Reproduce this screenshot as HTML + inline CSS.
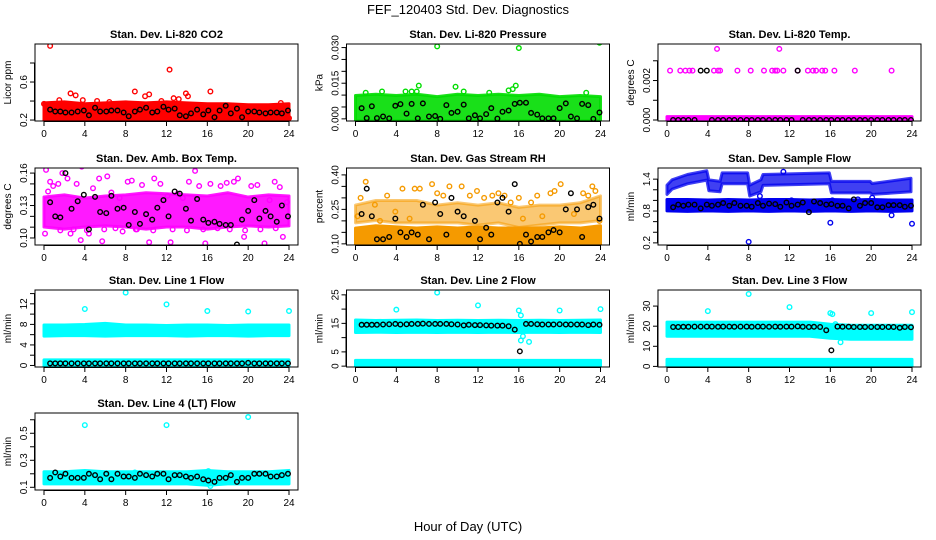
<!DOCTYPE html>
<html><head><meta charset="utf-8">
<style>
html,body{margin:0;padding:0;background:#fff;}
svg{display:block;font-family:"Liberation Sans",sans-serif;}
</style></head>
<body>
<svg id="chart" width="936" height="540" viewBox="0 0 936 540" xmlns="http://www.w3.org/2000/svg">
<text x="468" y="14" text-anchor="middle" font-size="13">FEF_120403  Std. Dev. Diagnostics</text>
<text x="468" y="531" text-anchor="middle" font-size="13">Hour of Day (UTC)</text>
</svg>
<script>
// ---- shared data ----
const hours = [0,4,8,12,16,20,24];
const blackT = [0.6,1.1,1.6,2.1,2.7,3.3,3.9,4.4,5.0,5.5,6.1,6.6,7.2,7.8,8.3,8.9,9.4,10.0,10.6,11.1,11.7,12.2,12.8,13.3,13.9,14.4,15.0,15.6,16.1,16.7,17.2,17.8,18.3,18.9,19.4,20.0,20.6,21.1,21.7,22.2,22.8,23.3,23.9];
const bandT = [0,2,4,6,8,10,12,14,16,18,20,22,24];

// CO2
const co2Lo = [0.22,0.22,0.22,0.23,0.22,0.22,0.22,0.22,0.22,0.23,0.22,0.22,0.22];
const co2Hi = [0.36,0.37,0.35,0.36,0.37,0.36,0.37,0.36,0.35,0.35,0.34,0.34,0.35];
const co2OutT = [0.6,12.3,2.6,3.1,8.9,16.3,13.9,10.3,3.8,1.5,5.2,0,12.7,13.2,23.2,6.4,11.5,5.0,24,3.2,9.9,14.1];
const co2OutV = [0.98,0.73,0.48,0.46,0.5,0.5,0.48,0.47,0.41,0.41,0.4,0.37,0.43,0.42,0.38,0.39,0.4,0.2,0.22,0.23,0.45,0.45];
const co2Black = [0.31,0.29,0.29,0.28,0.28,0.29,0.30,0.25,0.33,0.29,0.29,0.30,0.30,0.28,0.24,0.29,0.31,0.33,0.28,0.29,0.34,0.31,0.32,0.25,0.24,0.27,0.31,0.26,0.30,0.23,0.30,0.35,0.27,0.32,0.23,0.29,0.29,0.28,0.27,0.28,0.28,0.27,0.30];

// Pressure
const prLo = [0,0,0,0,0,0,0,0,0,0,0,0,0];
const prHi = [0.009,0.0095,0.009,0.0095,0.0085,0.0095,0.009,0.0095,0.009,0.0095,0.0085,0.009,0.0085];
const prOutT = [8,16,23.9,6.2,9.8,15.7,15.4,15,4.9,5.5,6,2.6,10.6,13.1,22.6,1.0];
const prOutV = [0.0305,0.0298,0.032,0.014,0.0135,0.014,0.0125,0.012,0.0115,0.0115,0.0115,0.0115,0.0115,0.011,0.011,0.011];
const prBlack = [0.0045,0.0003,0.0053,0.0003,0.001,0.0002,0.0055,0.0062,0.0022,0.0063,0.0002,0.0065,0.001,0.0012,0.0,0.0058,0.0025,0.003,0.006,0.0002,0.0015,0.0002,0.002,0.0045,0.0001,0.003,0.0035,0.0063,0.0068,0.0068,0.0025,0.0018,0.0002,0.0002,0.0002,0.0045,0.0065,0.001,0.0002,0.0063,0.0058,0.0,0.0027];

// Temp
const tpLo = [0,0,0,0,0,0,0,0,0,0,0,0,0];
const tpHi = [0.00007,0.00007,0.00007,0.00007,0.00007,0.00007,0.00007,0.00007,0.00007,0.00007,0.00007,0.00007,0.00007];
const tpOutT = [0.3,1.3,1.8,2.2,2.5,4.6,5.0,5.2,6.9,8.2,9.5,10.3,10.6,10.8,11.4,12.8,13.8,14.3,14.6,15.2,15.5,16.4,18.4,22,4.9,11];
const tpOutV = [0.0025,0.0025,0.0025,0.0025,0.0025,0.0025,0.0025,0.0025,0.0025,0.0025,0.0025,0.0025,0.0025,0.0025,0.0025,0.0025,0.0025,0.0025,0.0025,0.0025,0.0025,0.0025,0.0025,0.0025,0.0036,0.0036];
const tpBlack = [0,0,0,0,0,0.0025,0.0025,0,0,0,0,0,0,0,0,0,0,0,0,0,0,0,0.0025,0,0,0,0,0,0,0,0,0,0,0,0,0,0,0,0,0,0,0,0];

// Amb box temp
const abLo = [0.112,0.11,0.112,0.113,0.112,0.11,0.112,0.112,0.11,0.112,0.113,0.112,0.113];
const abHi = [0.136,0.138,0.135,0.137,0.138,0.14,0.139,0.138,0.137,0.14,0.136,0.138,0.137];
const abOutT = [0.2,0.4,0.6,0.9,1.4,1.8,2.3,2.6,3.2,3.6,3.7,4.4,4.8,5.4,5.7,6.2,6.6,7.4,7.7,8.2,8.6,9.1,9.6,10.3,10.8,11.4,12.1,12.4,13.1,13.6,14.2,14.8,15.2,15.8,16.3,16.7,17.3,17.9,18.6,19.0,19.6,20.3,20.9,21.6,22.1,22.6,23.1,23.4,23.8,0.1,1.6,2.9,4.2,5.9,7.0,9.0,10.7,12.6,14.0,15.6,17.0,18.2,19.7,21.2,22.7];
const abOutV = [0.163,0.143,0.152,0.148,0.15,0.16,0.155,0.104,0.15,0.098,0.166,0.104,0.146,0.155,0.097,0.157,0.142,0.137,0.106,0.152,0.153,0.108,0.149,0.096,0.155,0.15,0.139,0.096,0.141,0.137,0.152,0.162,0.148,0.095,0.15,0.114,0.148,0.151,0.152,0.155,0.101,0.148,0.149,0.095,0.135,0.152,0.147,0.101,0.133,0.104,0.107,0.108,0.107,0.108,0.109,0.108,0.107,0.108,0.107,0.108,0.109,0.108,0.107,0.108,0.109];
const abBlack = [0.133,0.12,0.119,0.16,0.127,0.134,0.14,0.108,0.138,0.124,0.123,0.139,0.127,0.128,0.112,0.124,0.113,0.122,0.117,0.128,0.135,0.12,0.143,0.141,0.127,0.116,0.136,0.117,0.114,0.115,0.113,0.112,0.112,0.094,0.117,0.125,0.135,0.118,0.125,0.12,0.115,0.13,0.12];

// RH
const rhLo = [0.105,0.105,0.11,0.105,0.105,0.11,0.105,0.105,0.1,0.105,0.105,0.105,0.105];
const rhHi = [0.16,0.17,0.165,0.16,0.165,0.16,0.165,0.16,0.16,0.16,0.165,0.16,0.17];
const rh2Lo = [0.2,0.21,0.2,0.2,0.2,0.2,0.19,0.2,0.18,0.19,0.2,0.2,0.21];
const rh2Hi = [0.26,0.28,0.28,0.28,0.26,0.27,0.26,0.27,0.25,0.26,0.26,0.27,0.3];
const rhOutT = [0.2,0.5,1.0,1.9,2.4,3.1,3.9,4.6,5.3,5.8,6.3,7.5,8.0,8.6,9.2,10.4,11.2,11.9,12.6,13.4,14.0,14.6,15.2,16.0,16.4,17.2,17.8,18.3,19.1,19.5,20.1,21.4,22.3,22.8,23.2,23.5,23.9];
const rhOutV = [0.22,0.3,0.37,0.27,0.2,0.31,0.24,0.34,0.21,0.34,0.34,0.36,0.32,0.31,0.35,0.35,0.31,0.33,0.3,0.31,0.32,0.31,0.28,0.3,0.21,0.28,0.31,0.22,0.32,0.33,0.36,0.23,0.32,0.31,0.35,0.33,0.2];
const rhBlack = [0.23,0.34,0.22,0.12,0.12,0.13,0.21,0.15,0.13,0.15,0.14,0.27,0.12,0.28,0.23,0.14,0.30,0.24,0.22,0.14,0.20,0.12,0.17,0.14,0.28,0.30,0.24,0.36,0.10,0.14,0.11,0.13,0.13,0.15,0.16,0.15,0.25,0.32,0.25,0.13,0.26,0.27,0.21];

// Sample flow
const sfLo = [0.84,0.83,0.84,0.83,0.84,0.83,0.84,0.83,0.84,0.83,0.84,0.83,0.84];
const sfHi = [0.98,0.98,0.97,0.98,0.97,0.98,0.98,0.97,0.98,0.97,0.98,0.97,0.97];
const sfUpT = [0,0.5,2,3.9,4.1,5.2,5.4,7.9,8.1,9.2,9.4,15.9,16.1,19.9,20.1,23.9];
const sfUpLo = [1.15,1.25,1.35,1.42,1.22,1.2,1.35,1.35,1.12,1.2,1.32,1.35,1.18,1.18,1.15,1.2];
const sfUpHi = [1.25,1.35,1.45,1.52,1.35,1.32,1.48,1.48,1.25,1.35,1.45,1.48,1.32,1.32,1.28,1.38];
const sfOutT = [8,16,24,22,9.1,11.4,12.2,16.2,20.1,18.7];
const sfOutV = [0.22,0.58,0.56,0.72,1.08,1.54,1.0,1.0,1.05,1.02];
const sfBlack = [0.87,0.92,0.9,0.92,0.92,0.85,0.92,0.9,0.92,0.95,0.9,0.95,0.9,0.9,0.88,0.95,0.9,0.94,0.93,0.88,0.96,0.9,0.92,0.96,0.78,0.98,0.95,0.92,0.93,0.9,0.9,0.85,1.02,0.9,0.95,0.95,0.87,0.87,0.91,0.91,0.91,0.88,0.9];

// Line 1
const l1Lo = [6.1,6.2,6.2,6.1,6.2,6.2,6.2,6.1,6.2,6.2,6.1,6.2,6.2];
const l1Hi = [7.5,7.5,7.6,7.8,7.5,7.5,7.4,7.5,7.5,7.4,7.5,7.5,7.5];
const l1bLo = [0,0,0,0,0,0,0,0,0,0,0,0,0];
const l1bHi = [0.7,0.7,0.7,0.7,0.7,0.7,0.7,0.7,0.7,0.7,0.7,0.7,0.7];
const l1OutT = [4,8,12,16,20,24];
const l1OutV = [11,14.2,11.9,10.6,10.5,10.6];
const l1Black = [0.4,0.4,0.4,0.4,0.4,0.4,0.4,0.4,0.4,0.4,0.4,0.4,0.4,0.4,0.4,0.4,0.4,0.4,0.4,0.4,0.4,0.4,0.4,0.4,0.4,0.4,0.4,0.4,0.4,0.4,0.4,0.4,0.4,0.4,0.4,0.5,0.4,0.4,0.4,0.4,0.4,0.4,0.4];

// Line 2
const l2Lo = [12.5,12.6,12.5,12.6,12.5,12.6,12.5,12.6,12.5,12.6,12.5,12.6,12.5];
const l2Hi = [15.5,15.3,15.4,15.5,15.3,15.4,15.3,15.4,15.3,15.4,15.3,15.4,15.5];
const l2bLo = [0,0,0,0,0,0,0,0,0,0,0,0,0];
const l2bHi = [1.3,1.3,1.3,1.3,1.3,1.3,1.3,1.3,1.3,1.3,1.3,1.3,1.3];
const l2OutT = [4,8,12,16,20,24,16.2,16.4,16.2,17];
const l2OutV = [19.8,25.8,21.3,19.5,19.5,20,17.8,10.5,9,8.5];
const l2Black = [14.5,14.5,14.5,14.5,14.6,14.7,14.8,14.6,14.7,14.8,14.8,14.9,14.8,14.8,14.8,14.8,14.7,14.6,14.3,14.5,14.4,14.4,14.3,14.2,14.2,14.2,14.0,12.8,5.2,14.8,14.8,14.7,14.6,14.6,14.6,14.7,14.6,14.6,14.6,14.6,14.4,14.6,14.5];

// Line 3
const l3Lo = [16,16,16,16,16,16,16,16,15,14.5,14.5,14.5,14.5];
const l3Hi = [21,21,21,21,21,21,21,21,20,19.5,19.5,19.5,19.5];
const l3bLo = [0.5,0.5,0.5,0.5,0.5,0.5,0.5,0.5,0.5,0.5,0.5,0.5,0.5];
const l3bHi = [2.5,2.5,2.5,2.5,2.5,2.5,2.5,2.5,2.5,2.5,2.5,2.5,2.5];
const l3OutT = [4,8,12,16,16.2,20,24,16.5,17];
const l3OutV = [27.5,36,29.5,26.5,26,26.5,27,21,12];
const l3Black = [19.6,19.6,19.7,19.7,19.8,19.8,19.8,19.8,19.7,19.8,19.8,19.7,19.8,19.8,19.7,19.8,19.8,19.7,19.8,19.7,19.8,19.8,19.9,19.7,19.6,19.7,19.6,18,8,19.8,19.7,19.7,19.6,19.6,19.6,19.6,19.6,19.6,19.6,19.6,19.2,19.6,19.5];

// Line 4
const l4Lo = [0.14,0.14,0.14,0.14,0.14,0.14,0.14,0.14,0.13,0.14,0.14,0.14,0.14];
const l4Hi = [0.2,0.2,0.21,0.2,0.2,0.2,0.2,0.2,0.21,0.2,0.2,0.2,0.21];
const l4OutT = [4,12,20,16.3,16.1,8.9];
const l4OutV = [0.56,0.56,0.62,0.11,0.22,0.21];
const l4Black = [0.17,0.21,0.18,0.2,0.17,0.17,0.17,0.2,0.19,0.16,0.2,0.16,0.2,0.18,0.18,0.17,0.2,0.19,0.18,0.2,0.2,0.16,0.19,0.19,0.18,0.17,0.18,0.16,0.15,0.14,0.17,0.17,0.19,0.14,0.17,0.17,0.2,0.2,0.2,0.18,0.18,0.19,0.2];

// ---- layout (not data) ----
const colX = [35, 346.5, 658];
const rowY = [44, 168, 290, 413];
const PW = 263, PH = 77;

const panels = [
 {name:'co2', title:'Stan. Dev. Li-820 CO2', ylab:'Licor ppm', col:0,row:0, ymin:0.19,ymax:1.0, ticks:[0.2,0.4,0.6,0.8], labels:['0.2','','0.6',''], color:'#ff0000',
  bands:[[bandT,co2Lo,co2Hi]], outT:co2OutT, outV:co2OutV, black:co2Black},
 {name:'pressure', title:'Stan. Dev. Li-820 Pressure', ylab:'kPa', col:1,row:0, ymin:-0.0009,ymax:0.0315, ticks:[0,0.005,0.01,0.015,0.02,0.025,0.03], labels:['0.000','','','0.015','','','0.030'], color:'#00dd00',
  bands:[[bandT,prLo,prHi,0.9]], outT:prOutT, outV:prOutV, black:prBlack},
 {name:'temp', title:'Stan. Dev. Li-820 Temp.', ylab:'degrees C', col:2,row:0, ymin:-0.00005,ymax:0.00385, ticks:[0,0.001,0.002,0.003], labels:['0.000','','0.002',''], color:'#ff00ff',
  bands:[[bandT,tpLo,tpHi]], outT:tpOutT, outV:tpOutV, black:tpBlack},
 {name:'amb-box-temp', title:'Stan. Dev. Amb. Box Temp.', ylab:'degrees C', col:0,row:1, ymin:0.0935,ymax:0.1647, ticks:[0.1,0.11,0.12,0.13,0.14,0.15,0.16], labels:['0.10','','','0.13','','','0.16'], color:'#ff00ff',
  bands:[[bandT,abLo,abHi,0.9]], outT:abOutT, outV:abOutV, black:abBlack},
 {name:'gas-rh', title:'Stan. Dev. Gas Stream RH', ylab:'percent', col:1,row:1, ymin:0.095,ymax:0.43, ticks:[0.1,0.15,0.2,0.25,0.3,0.35,0.4], labels:['0.10','','','0.25','','','0.40'], color:'#f59a00',
  bands:[[bandT,rhLo,rhHi],[bandT,rh2Lo,rh2Hi,0.55]], outT:rhOutT, outV:rhOutV, black:rhBlack},
 {name:'sample-flow', title:'Stan. Dev. Sample Flow', ylab:'ml/min', col:2,row:1, ymin:0.16,ymax:1.61, ticks:[0.2,0.4,0.6,0.8,1.0,1.2,1.4], labels:['0.2','','','0.8','','','1.4'], color:'#0000ee',
  bands:[[bandT,sfLo,sfHi],[sfUpT,sfUpLo,sfUpHi,0.75]], outT:sfOutT, outV:sfOutV, black:sfBlack},
 {name:'line1-flow', title:'Stan. Dev. Line 1 Flow', ylab:'ml/min', col:0,row:2, ymin:-0.3,ymax:14.7, ticks:[0,2,4,6,8,10,12,14], labels:['0','','4','','8','','12',''], color:'#00ffff',
  bands:[[bandT,l1Lo,l1Hi],[bandT,l1bLo,l1bHi]], outT:l1OutT, outV:l1OutV, black:l1Black},
 {name:'line2-flow', title:'Stan. Dev. Line 2 Flow', ylab:'ml/min', col:1,row:2, ymin:-0.3,ymax:26.7, ticks:[0,5,10,15,20,25], labels:['0','5','','15','','25'], color:'#00ffff',
  bands:[[bandT,l2Lo,l2Hi],[bandT,l2bLo,l2bHi]], outT:l2OutT, outV:l2OutV, black:l2Black},
 {name:'line3-flow', title:'Stan. Dev. Line 3 Flow', ylab:'ml/min', col:2,row:2, ymin:-0.3,ymax:38, ticks:[0,10,20,30], labels:['0','10','20','30'], color:'#00ffff',
  bands:[[bandT,l3Lo,l3Hi],[bandT,l3bLo,l3bHi]], outT:l3OutT, outV:l3OutV, black:l3Black},
 {name:'line4-flow', title:'Stan. Dev. Line 4 (LT) Flow', ylab:'ml/min', col:0,row:3, ymin:0.08,ymax:0.65, ticks:[0.1,0.2,0.3,0.4,0.5,0.6], labels:['0.1','','0.3','','0.5',''], color:'#00ffff',
  bands:[[bandT,l4Lo,l4Hi]], outT:l4OutT, outV:l4OutV, black:l4Black}
];

const NS = 'http://www.w3.org/2000/svg';
const svg = document.getElementById('chart');
function mk(tag, attrs, parent){
  const e = document.createElementNS(NS, tag);
  for (const k in attrs) e.setAttribute(k, attrs[k]);
  parent.appendChild(e);
  return e;
}

panels.forEach(p => {
  const L = colX[p.col], Tp = rowY[p.row], R = L + PW, B = Tp + PH;
  const xs = h => L + 9 + (h / 24) * (PW - 18);
  const ys = v => B - (v - p.ymin) / (p.ymax - p.ymin) * PH;
  const g = mk('g', {}, svg);
  
  

  const clipId = 'clip-' + p.name;
  const cp = mk('clipPath', {id: clipId}, g);
  mk('rect', {x: L, y: Tp, width: PW, height: PH}, cp);
  const plot = mk('g', {'clip-path': 'url(#' + clipId + ')'}, g);
  
  

  p.bands.forEach(bd => {
    const [bt, lo, hi, op] = bd;
    const pts = [];
    for (let i = 0; i < bt.length; i++) pts.push(xs(bt[i]) + ',' + (ys(hi[i]) - 2));
    for (let i = bt.length - 1; i >= 0; i--) pts.push(xs(bt[i]) + ',' + (ys(lo[i]) + 2));
    const poly = mk('polygon', {points: pts.join(' '), fill: p.color, 'fill-opacity': op || 1, stroke: p.color, 'stroke-width': 3, 'stroke-opacity': op || 1, 'stroke-linejoin': 'round'}, plot);
    
    
  });
  p.outT.forEach((t, i) => {
    const c = mk('circle', {cx: xs(t), cy: ys(p.outV[i]), r: 2.3, fill: 'none', stroke: p.color, 'stroke-width': 1.4}, plot);
    
    
  });
  p.black.forEach((v, i) => {
    const c = mk('circle', {cx: xs(blackT[i]), cy: ys(v), r: 2.3, fill: 'none', stroke: '#000', 'stroke-width': 1.4}, plot);
    
    
  });

  const fr = mk('rect', {x: L, y: Tp, width: PW, height: PH, fill: 'none', stroke: '#000', 'stroke-width': 1}, g);
  
  

  const xa = mk('g', {}, g);
  
  
  mk('line', {x1: xs(0), x2: xs(24), y1: B + 0.5, y2: B + 0.5, stroke: '#000'}, xa);
  hours.forEach(h => {
    mk('line', {x1: xs(h), x2: xs(h), y1: B, y2: B + 5, stroke: '#000'}, xa);
    const t = mk('text', {x: xs(h), y: B + 16, 'text-anchor': 'middle', 'font-size': 10}, xa);
    t.textContent = h;
    
    
  });

  const ya = mk('g', {}, g);
  
  
  mk('line', {x1: L - 0.5, x2: L - 0.5, y1: ys(p.ticks[0]), y2: ys(p.ticks[p.ticks.length - 1]), stroke: '#000'}, ya);
  p.ticks.forEach((v, i) => {
    const y = ys(v);
    mk('line', {x1: L - 5, x2: L, y1: y, y2: y, stroke: '#000'}, ya);
    if (p.labels[i]) {
      const t = mk('text', {x: 0, y: 0, 'text-anchor': 'middle', 'font-size': 10, transform: 'translate(' + (L - 8) + ',' + y + ') rotate(-90)'}, ya);
      t.textContent = p.labels[i];
      
      
    }
  });
  const yl = mk('text', {x: 0, y: 0, 'text-anchor': 'middle', 'font-size': 10, transform: 'translate(' + (L - 24) + ',' + (Tp + PH / 2) + ') rotate(-90)'}, g);
  yl.textContent = p.ylab;
  
  

  const tt = mk('text', {x: L + PW / 2, y: Tp - 6, 'text-anchor': 'middle', 'font-size': 11, 'font-weight': 'bold'}, g);
  tt.textContent = p.title;
  
  
});
</script>
</body></html>
